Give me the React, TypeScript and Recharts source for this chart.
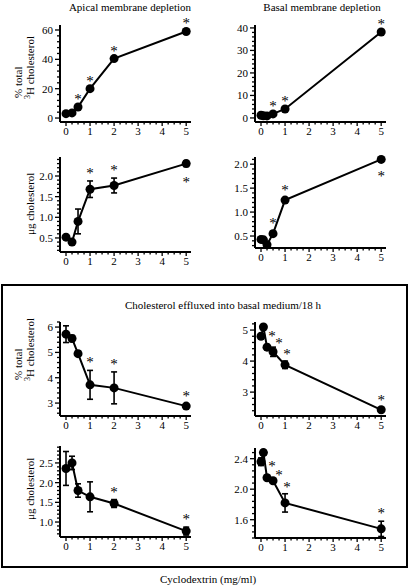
import React from 'react';
import { LineChart, Line, XAxis, YAxis, ErrorBar } from 'recharts';

const FONT = "'Liberation Serif', 'Times New Roman', serif";
const TXT = { fontFamily: FONT, fill: '#000' };

// cyclodextrin doses (mg/ml)
const apicalDoses = [0, 0.25, 0.5, 1, 2, 5];
const basalDoses = [0, 0.1, 0.25, 0.5, 1, 5];

// star codes: 0 none, 1 above, 2 below, 3 above-right, 4 right (lower), 5 above (nudged right)

// apical membrane depletion
const apicalPct = [3, 3.5, 7.5, 20, 40.5, 59];
const apicalPctStar = [0, 0, 1, 1, 1, 1];
const apicalUg = [0.52, 0.4, 0.9, 1.68, 1.77, 2.3];
const apicalUgErr = [0.03, 0.03, 0.3, 0.2, 0.18, 0.07];
const apicalUgStar = [0, 0, 0, 1, 1, 2];

// basal membrane depletion
const basalPct = [1.2, 1.0, 0.9, 1.8, 4.0, 38.2];
const basalPctStar = [0, 0, 0, 1, 1, 1];
const basalUg = [0.43, 0.42, 0.32, 0.55, 1.25, 2.1];
const basalUgErr = [0.03, 0.03, 0.04, 0.05, 0.04, 0.03];
const basalUgStar = [0, 0, 0, 1, 1, 2];

// cholesterol effluxed into basal medium / 18 h
const effluxApicalPct = [5.72, 5.55, 4.95, 3.72, 3.6, 2.88];
const effluxApicalPctErr = [0.33, 0.12, 0.1, 0.57, 0.63, 0.08];
const effluxApicalPctStar = [0, 0, 0, 1, 1, 1];
const effluxBasalPct = [4.8, 5.1, 4.45, 4.3, 3.88, 2.43];
const effluxBasalPctErr = [0.05, 0.05, 0.08, 0.15, 0.12, 0.05];
const effluxBasalPctStar = [0, 0, 3, 4, 5, 1];
const effluxApicalUg = [2.36, 2.5, 1.8, 1.64, 1.47, 0.77];
const effluxApicalUgErr = [0.43, 0.17, 0.17, 0.38, 0.1, 0.1];
const effluxApicalUgStar = [0, 0, 0, 0, 1, 1];
const effluxBasalUg = [2.36, 2.48, 2.15, 2.11, 1.82, 1.48];
const effluxBasalUgErr = [0.05, 0.03, 0.03, 0.02, 0.12, 0.1];
const effluxBasalUgStar = [0, 0, 3, 4, 5, 1];

type Row = { x: number; y: number; err: number; star: number; starAt: number | null };

function rowsOf(xs: number[], ys: number[], errs: number[] | null, stars: number[]): Row[] {
  return xs.map((x, i) => {
    const err = errs ? errs[i] : 0;
    const star = stars[i];
    let starAt: number | null = null;
    if (star === 2) starAt = ys[i] - err;
    else if (star > 0) starAt = ys[i] + err;
    return { x, y: ys[i], err, star, starAt };
  });
}

const XTick = (p: any) => {
  const { x, y, payload } = p;
  const v = payload.value;
  const major = Math.abs(v - Math.round(v)) < 1e-6;
  return (
    <g>
      <line x1={x} x2={x} y1={y} y2={y + (major ? 4 : 2.5)} stroke="#000" strokeWidth={1.3} />
      {major && (
        <text x={x} y={y + 13} textAnchor="middle" fontSize={11} style={TXT}>
          {v}
        </text>
      )}
    </g>
  );
};

const YTick = (p: any) => {
  const { x, y, payload, major, dec } = p;
  const v = payload.value;
  const isMajor = major.some((m: number) => Math.abs(m - v) < 1e-6);
  return (
    <g>
      <line x1={x - (isMajor ? 5 : 3)} x2={x} y1={y} y2={y} stroke="#000" strokeWidth={1.3} />
      {isMajor && (
        <text x={x - 7} y={y + 4} textAnchor="end" fontSize={11} style={TXT}>
          {v.toFixed(dec)}
        </text>
      )}
    </g>
  );
};

const renderStar = (p: any) => {
  const { cx, cy, payload, index } = p;
  if (cy == null || !payload || !payload.star) return <g key={`s${index}`} />;
  let dx = 0;
  let center = cy - 10;
  if (payload.star === 2) center = cy + 13;
  if (payload.star === 3) { dx = 5; center = cy - 11; }
  if (payload.star === 4) { dx = 6; center = cy - 6; }
  if (payload.star === 5) { dx = 2; center = cy - 9; }
  return (
    <text key={`s${index}`} x={cx + dx} y={center + 7} textAnchor="middle" fontSize={15} style={TXT}>
      *
    </text>
  );
};

type PanelProps = {
  rows: Row[];
  axisX: number;
  top: number;
  bottom: number;
  yDomain: [number, number];
  yMajor: number[];
  yStep: number;
  dec: number;
  bars: boolean;
};

function Panel({ rows, axisX, top, bottom, yDomain, yMajor, yStep, dec, bars }: PanelProps) {
  const plotW = 131;
  const plotH = bottom - top;
  const padL = 40;
  const padT = 22;
  const padR = 12;
  const xAxisH = 22;
  const yTicks: number[] = [];
  for (let k = Math.ceil(yDomain[0] / yStep - 1e-6); k * yStep <= yDomain[1] + 1e-9; k++) {
    yTicks.push(+(k * yStep).toFixed(4));
  }
  const xTicks: number[] = [];
  for (let k = 0; k <= 20; k++) xTicks.push(k * 0.25);
  return (
    <div style={{ position: 'absolute', left: axisX - padL, top: top - padT }}>
      <LineChart
        width={padL + plotW + padR}
        height={padT + plotH + xAxisH}
        data={rows}
        margin={{ top: padT, right: padR, bottom: 0, left: 0 }}
      >
        <XAxis
          dataKey="x"
          type="number"
          domain={[-0.25, 5.2]}
          ticks={xTicks}
          interval={0}
          height={xAxisH}
          tickSize={0}
          tickMargin={0}
          tickLine={false}
          axisLine={{ stroke: '#000', strokeWidth: 2 }}
          tick={(t: any) => <XTick {...t} />}
        />
        <YAxis
          type="number"
          domain={yDomain}
          ticks={yTicks}
          interval={0}
          width={padL}
          tickSize={0}
          tickMargin={0}
          tickLine={false}
          axisLine={{ stroke: '#000', strokeWidth: 2 }}
          tick={(t: any) => <YTick {...t} major={yMajor} dec={dec} />}
        />
        <Line
          dataKey="y"
          stroke="#000"
          strokeWidth={2}
          dot={{ r: 4.5, fill: '#000', stroke: '#000', strokeWidth: 0 }}
          activeDot={false}
          isAnimationActive={false}
        >
          {bars && <ErrorBar dataKey="err" width={3} stroke="#000" strokeWidth={1.6} />}
        </Line>
        <Line
          dataKey="starAt"
          stroke="none"
          dot={renderStar}
          activeDot={false}
          isAnimationActive={false}
        />
      </LineChart>
    </div>
  );
}

const RotLabel = ({ x, y, lines }: { x: number; y: number; lines: 'pct' | 'ug' }) => {
  if (lines === 'ug') {
    return (
      <text transform={`translate(${x + 4},${y}) rotate(-90)`} fontSize={11} style={TXT}>
        μg cholesterol
      </text>
    );
  }
  return (
    <g>
      <text transform={`translate(${x - 8},${y - 1}) rotate(-90)`} fontSize={11} style={TXT}>
        % total
      </text>
      <text transform={`translate(${x + 4},${y}) rotate(-90)`} fontSize={11} style={TXT}>
        <tspan fontSize={8} dy={-4}>3</tspan>
        <tspan dy={4}>H cholesterol</tspan>
      </text>
    </g>
  );
};

export default function App() {
  return (
    <div style={{ position: 'absolute', left: 0, top: 0, width: 409, height: 587, background: '#fff', fontFamily: FONT }}>
      <svg width={409} height={587} style={{ position: 'absolute', left: 0, top: 0 }}>
        <text x={130} y={11} textAnchor="middle" fontSize={11} style={TXT}>Apical membrane depletion</text>
        <text x={322} y={11} textAnchor="middle" fontSize={11} style={TXT}>Basal membrane depletion</text>
        <rect x={2} y={285} width={405} height={282} fill="none" stroke="#000" strokeWidth={2} />
        <text x={223} y={309} textAnchor="middle" fontSize={11} style={TXT}>
          Cholesterol effluxed into basal medium/18 h
        </text>
        <text x={208} y={583} textAnchor="middle" fontSize={11} style={TXT}>Cyclodextrin (mg/ml)</text>
        <RotLabel x={30} y={99} lines="pct" />
        <RotLabel x={30} y={235} lines="ug" />
        <RotLabel x={30} y={381} lines="pct" />
        <RotLabel x={30} y={520} lines="ug" />
      </svg>

      <Panel rows={rowsOf(apicalDoses, apicalPct, null, apicalPctStar)} axisX={60} top={25} bottom={122}
        yDomain={[-2.7, 63.4]} yMajor={[0, 20, 40, 60]} yStep={4} dec={0} bars={false} />
      <Panel rows={rowsOf(basalDoses, basalPct, null, basalPctStar)} axisX={255} top={25} bottom={122}
        yDomain={[-1.8, 41.3]} yMajor={[0, 10, 20, 30, 40]} yStep={2} dec={0} bars={false} />
      <Panel rows={rowsOf(apicalDoses, apicalUg, apicalUgErr, apicalUgStar)} axisX={60} top={157} bottom={252}
        yDomain={[0.16, 2.46]} yMajor={[0.5, 1, 1.5, 2]} yStep={0.1} dec={1} bars />
      <Panel rows={rowsOf(basalDoses, basalUg, basalUgErr, basalUgStar)} axisX={255} top={157} bottom={248}
        yDomain={[0.25, 2.15]} yMajor={[0.5, 1, 1.5, 2]} yStep={0.1} dec={1} bars />
      <Panel rows={rowsOf(apicalDoses, effluxApicalPct, effluxApicalPctErr, effluxApicalPctStar)} axisX={60} top={322} bottom={416}
        yDomain={[2.49, 6.2]} yMajor={[3, 4, 5, 6]} yStep={0.2} dec={0} bars />
      <Panel rows={rowsOf(basalDoses, effluxBasalPct, effluxBasalPctErr, effluxBasalPctStar)} axisX={255} top={322} bottom={416}
        yDomain={[2.23, 5.26]} yMajor={[3, 4, 5]} yStep={0.2} dec={0} bars />
      <Panel rows={rowsOf(apicalDoses, effluxApicalUg, effluxApicalUgErr, effluxApicalUgStar)} axisX={60} top={446} bottom={537}
        yDomain={[0.62, 2.93]} yMajor={[1, 1.5, 2, 2.5]} yStep={0.1} dec={1} bars />
      <Panel rows={rowsOf(basalDoses, effluxBasalUg, effluxBasalUgErr, effluxBasalUgStar)} axisX={255} top={448} bottom={538}
        yDomain={[1.36, 2.54]} yMajor={[1.6, 2, 2.4]} yStep={0.08} dec={1} bars />
    </div>
  );
}
